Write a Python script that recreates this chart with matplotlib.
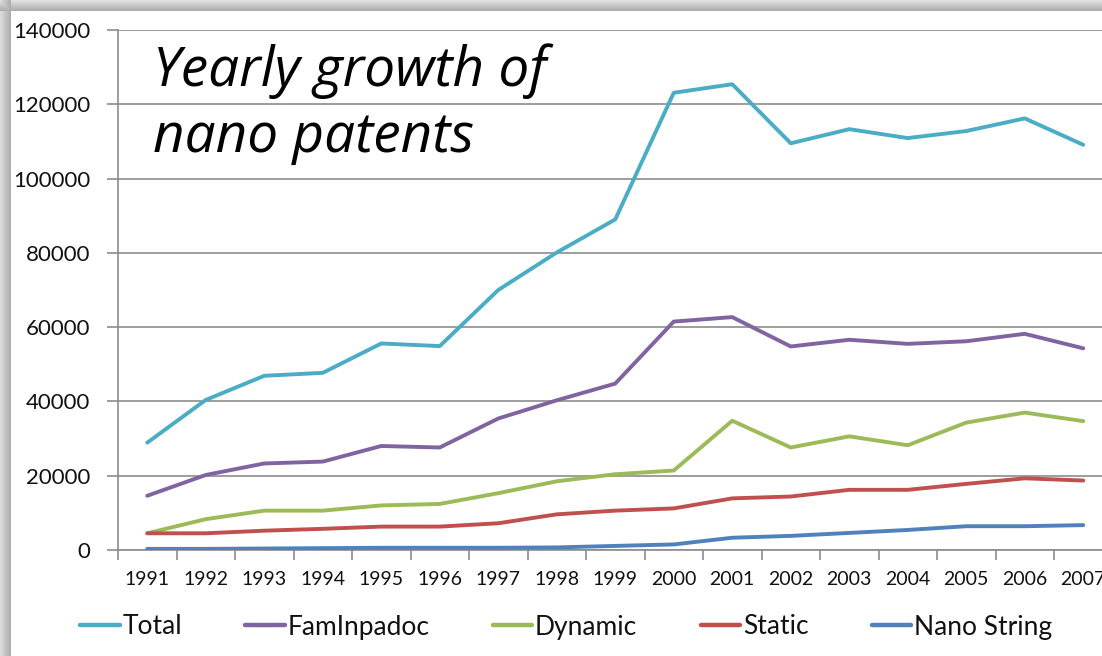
# ==========================================
# YEARLY GROWTH OF NANO PATENTS
# Excel-style line chart recreation
# ==========================================

import numpy as np
import matplotlib
matplotlib.use("Agg")
import matplotlib.pyplot as plt
from matplotlib.ticker import MultipleLocator, FixedLocator


# ==========================================
# DATA
# ==========================================

years = list(range(1991, 2008))

total = [28900, 40400, 46900, 47700, 55600, 54900, 70000, 80100, 89000,
         123100, 125400, 109500, 113300, 110900, 112800, 116200, 109100]
faminpadoc = [14600, 20200, 23300, 23800, 28000, 27600, 35400, 40300, 44800,
              61500, 62700, 54800, 56600, 55500, 56200, 58200, 54300]
dynamic = [4500, 8300, 10600, 10600, 12000, 12400, 15300, 18500, 20400,
           21400, 34800, 27600, 30600, 28200, 34300, 37000, 34700]
static = [4500, 4500, 5200, 5700, 6300, 6300, 7200, 9600, 10600,
          11200, 13900, 14400, 16200, 16200, 17800, 19300, 18700]
nano_string = [300, 300, 400, 500, 600, 600, 600, 700, 1100,
               1500, 3300, 3800, 4600, 5400, 6400, 6400, 6700]

series_names = ["Total", "FamInpadoc", "Dynamic", "Static", "Nano String"]
series_values = [total, faminpadoc, dynamic, static, nano_string]
series_colors = ["#4BACC6", "#8064A2", "#9BBB59", "#C0504D", "#4F81BD"]

title_text = "Yearly growth of\nnano patents"


# ==========================================
# FIGURE + FRAME SHADOW
# ==========================================

W, H = 1102, 656
fig = plt.figure(figsize=(W / 100, H / 100), dpi=100, facecolor="white")

# soft gray shadow on the top and left edges of the chart frame
bg = fig.add_axes([0, 0, 1, 1], zorder=-5)
yy, xx = np.mgrid[0:H, 0:W]
edge = 11.0
shade = np.ones((H, W))
top = yy < edge
left = xx < edge
shade[top] = 0.88 - 0.22 * (yy[top] / edge)
shade[left] = np.minimum(shade[left], 0.86 - 0.20 * (xx[left] / edge))
bg.imshow(shade, cmap="gray", vmin=0, vmax=1, aspect="auto",
          extent=[0, W, H, 0], interpolation="bilinear")
bg.set_axis_off()


# ==========================================
# PLOT AREA
# ==========================================

label_font = ["Lato", "DejaVu Sans"]

x0, x1 = 118, 1112.5
y_top, y_bot = 30, 550
ax = fig.add_axes([x0 / W, (H - y_bot) / H, (x1 - x0) / W, (y_bot - y_top) / H])
ax.set_facecolor("none")

x = np.arange(len(years))
for name, vals, col in zip(series_names, series_values, series_colors):
    ax.plot(x, vals, color=col, lw=2.8, label=name, solid_joinstyle="round",
            solid_capstyle="round", zorder=3)

ax.set_xlim(-0.5, len(years) - 0.5)
ax.set_ylim(0, 140000)
ax.yaxis.set_major_locator(MultipleLocator(20000))
ax.grid(axis="y", color="#8C8C8C", lw=1.2, zorder=0)
ax.set_axisbelow(True)

# category labels centred, tick marks between categories
ax.set_xticks(x)
ax.set_xticklabels([str(y) for y in years], family=label_font, fontsize=14,
                   color="#111111")
ax.xaxis.set_minor_locator(FixedLocator(np.arange(-0.5, len(years), 1.0)))
ax.tick_params(axis="x", which="major", length=0, pad=15)
ax.tick_params(axis="x", which="minor", length=7, width=1.2, color="#8C8C8C")
ax.tick_params(axis="y", length=8, width=1.2, color="#8C8C8C", pad=12)
for lbl in ax.get_yticklabels():
    lbl.set_family(label_font)
    lbl.set_fontsize(16)
    lbl.set_color("#111111")

for side in ["top", "right"]:
    ax.spines[side].set_visible(False)
for side in ["left", "bottom"]:
    ax.spines[side].set_color("#8C8C8C")
    ax.spines[side].set_linewidth(1.2)


# ==========================================
# TITLE INSIDE PLOT
# ==========================================

fig.text(153 / W, 1 - 43 / H, title_text, ha="left", va="top",
         family=["Open Sans", "DejaVu Sans"], style="italic",
         fontsize=39.5, color="black", linespacing=1.27)


# ==========================================
# LEGEND
# ==========================================

leg = fig.legend(loc="center", bbox_to_anchor=(566 / W, 1 - 627 / H), ncol=5,
                 frameon=False, handlelength=1.5, handletextpad=0.1,
                 columnspacing=2.4, prop={"family": label_font, "size": 19})
for t in leg.get_texts():
    t.set_color("#111111")
for h in leg.get_lines():
    h.set_linewidth(3.2)

fig.savefig("out.png", dpi=100, facecolor="white")
plt.close(fig)
